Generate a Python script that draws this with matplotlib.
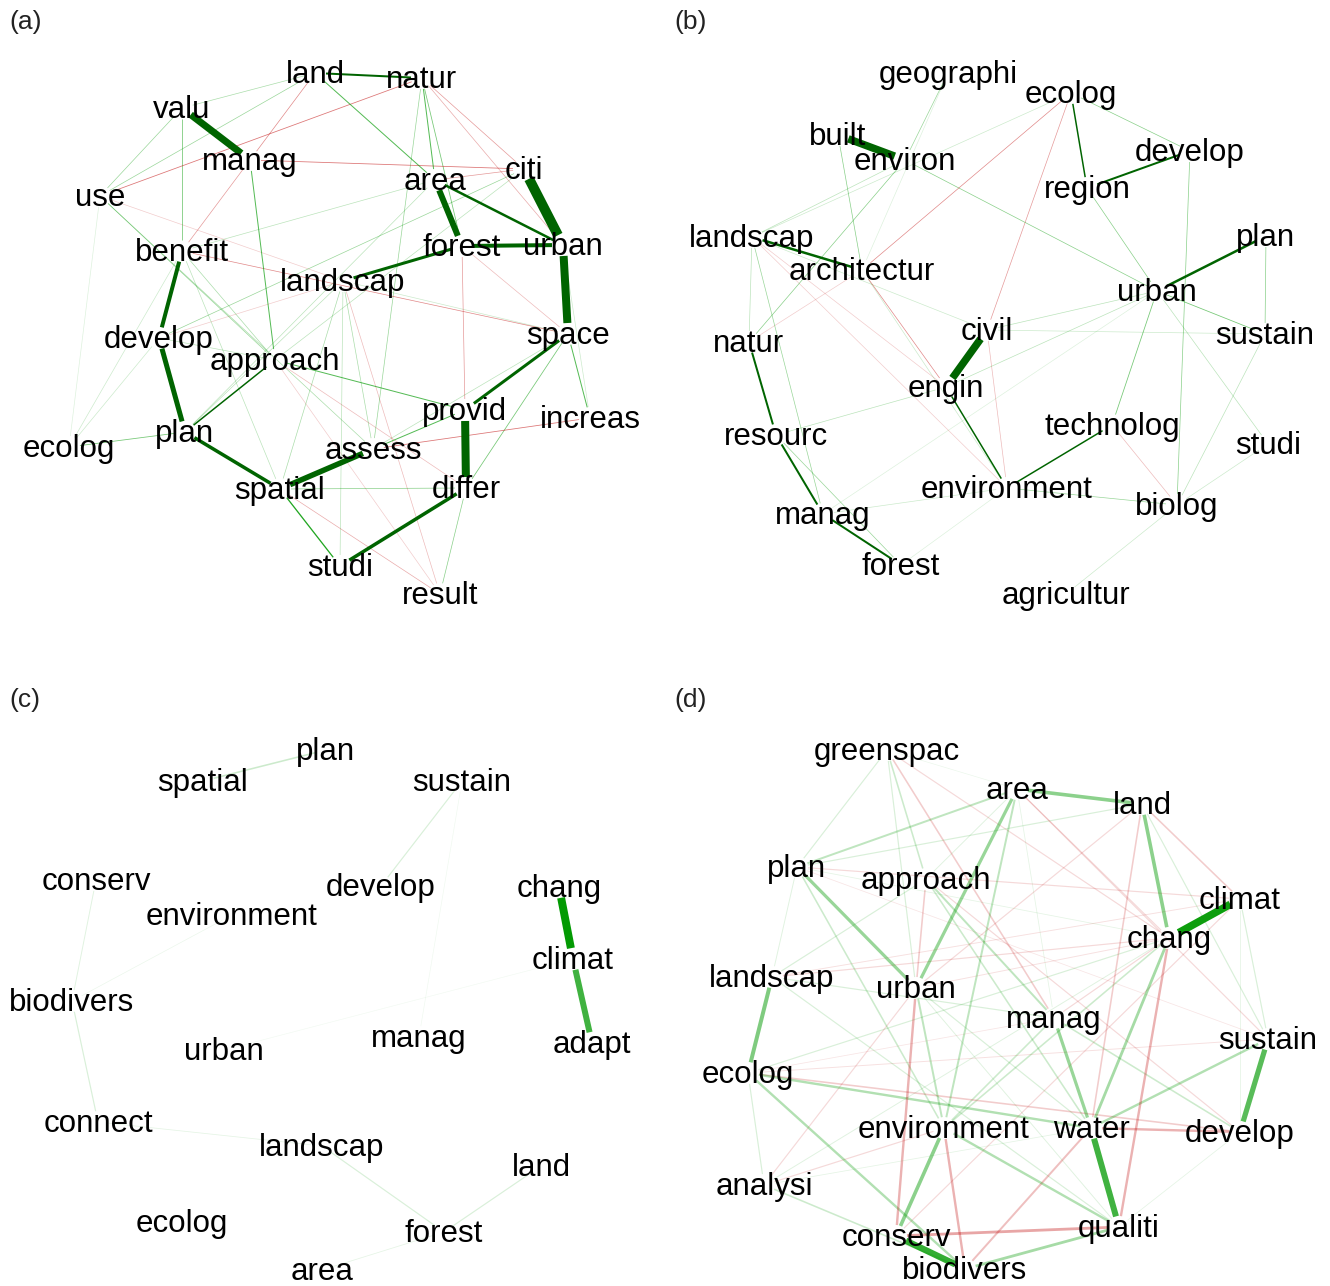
import numpy as np
import matplotlib
matplotlib.use("Agg")
import matplotlib.pyplot as plt
from matplotlib.colors import to_rgb

plt.rcParams['font.family'] = ['Liberation Sans', 'DejaVu Sans']

# node layouts (panel-local pixel coordinates, y down)
nodes_a = {
    'land': (315, 73), 'natur': (422, 78), 'valu': (182, 108), 'manag': (250, 160),
    'citi': (524, 169), 'area': (435, 180), 'use': (100, 196), 'forest': (462, 246),
    'urban': (563, 245), 'benefit': (182, 251), 'landscap': (343, 281), 'space': (568, 334),
    'develop': (159, 338), 'approach': (275, 360), 'provid': (465, 410), 'increas': (590, 418),
    'ecolog': (69, 447), 'plan': (185, 432), 'assess': (373, 449), 'spatial': (280, 489),
    'differ': (466, 488), 'studi': (340, 566), 'result': (440, 594),
}
edges_a = [
    ('citi', 'urban', 1.0), ('urban', 'space', 0.8), ('provid', 'differ', 0.8),
    ('valu', 'manag', 0.7), ('area', 'forest', 0.6), ('assess', 'spatial', 0.55),
    ('develop', 'plan', 0.5), ('benefit', 'develop', 0.4), ('forest', 'urban', 0.4),
    ('plan', 'spatial', 0.35), ('studi', 'differ', 0.35), ('landscap', 'forest', 0.3),
    ('space', 'provid', 0.3), ('area', 'urban', 0.25), ('land', 'natur', 0.2),
    ('approach', 'plan', 0.15), ('spatial', 'studi', 0.13), ('manag', 'approach', 0.1),
    ('valu', 'benefit', 0.08), ('plan', 'ecolog', 0.08), ('land', 'area', 0.1),
    ('natur', 'area', 0.1), ('natur', 'forest', 0.08), ('increas', 'space', 0.1),
    ('space', 'differ', 0.08), ('approach', 'provid', 0.1), ('assess', 'provid', 0.1),
    ('spatial', 'differ', 0.07), ('differ', 'result', 0.07), ('use', 'valu', 0.06),
    ('use', 'land', 0.06), ('use', 'approach', 0.06), ('use', 'assess', 0.05),
    ('valu', 'land', 0.05), ('citi', 'develop', 0.06), ('area', 'benefit', 0.04),
    ('natur', 'assess', 0.06), ('landscap', 'spatial', 0.05), ('landscap', 'studi', 0.04),
    ('landscap', 'assess', 0.05), ('landscap', 'plan', 0.04), ('benefit', 'approach', 0.05),
    ('benefit', 'spatial', 0.04), ('develop', 'approach', 0.04), ('ecolog', 'develop', 0.03),
    ('ecolog', 'benefit', 0.03), ('ecolog', 'use', 0.02), ('space', 'landscap', 0.03),
    ('citi', 'approach', 0.04), ('area', 'plan', 0.04), ('urban', 'increas', 0.03),
    ('space', 'assess', 0.04),
    ('use', 'natur', -0.08), ('land', 'manag', -0.07), ('manag', 'citi', -0.08),
    ('benefit', 'manag', -0.06), ('benefit', 'space', -0.07), ('area', 'citi', -0.06),
    ('natur', 'citi', -0.06), ('natur', 'urban', -0.05), ('forest', 'provid', -0.06),
    ('forest', 'space', -0.04), ('increas', 'assess', -0.08), ('spatial', 'result', -0.05),
    ('landscap', 'result', -0.04), ('approach', 'result', -0.03), ('develop', 'landscap', -0.03),
    ('approach', 'differ', -0.04), ('use', 'landscap', -0.03),
]

nodes_b = {
    'geographi': (283, 73), 'ecolog': (406, 93), 'built': (173, 135), 'environ': (240, 160),
    'develop': (525, 151), 'region': (422, 188), 'landscap': (87, 237), 'plan': (601, 236),
    'architectur': (197, 270), 'urban': (492, 291), 'civil': (322, 330), 'sustain': (600, 334),
    'natur': (84, 342), 'engin': (281, 387), 'technolog': (447, 425), 'resourc': (111, 435),
    'studi': (603, 444), 'environment': (342, 488), 'biolog': (512, 505), 'manag': (158, 514),
    'forest': (236, 565), 'agricultur': (401, 594),
}
edges_b = [
    ('built', 'environ', 0.75), ('civil', 'engin', 0.75), ('landscap', 'architectur', 0.25),
    ('urban', 'plan', 0.25), ('region', 'develop', 0.2), ('natur', 'resourc', 0.2),
    ('resourc', 'manag', 0.2), ('manag', 'forest', 0.2), ('ecolog', 'region', 0.15),
    ('engin', 'environment', 0.15), ('environment', 'technolog', 0.15),
    ('ecolog', 'develop', 0.07), ('develop', 'biolog', 0.07), ('plan', 'sustain', 0.07),
    ('urban', 'sustain', 0.08), ('urban', 'technolog', 0.08), ('region', 'urban', 0.07),
    ('environ', 'urban', 0.07), ('geographi', 'environ', 0.06), ('built', 'architectur', 0.07),
    ('environ', 'natur', 0.07), ('landscap', 'manag', 0.06), ('resourc', 'forest', 0.06),
    ('environment', 'biolog', 0.06), ('resourc', 'engin', 0.04), ('urban', 'civil', 0.04),
    ('urban', 'engin', 0.04), ('sustain', 'biolog', 0.04), ('biolog', 'agricultur', 0.03),
    ('biolog', 'studi', 0.03), ('urban', 'studi', 0.04), ('environ', 'landscap', 0.04),
    ('landscap', 'natur', 0.04), ('landscap', 'civil', 0.03), ('architectur', 'environment', 0.03),
    ('civil', 'sustain', 0.03), ('geographi', 'architectur', 0.02), ('ecolog', 'landscap', 0.03),
    ('manag', 'environment', 0.03), ('forest', 'environment', 0.02), ('urban', 'manag', 0.02),
    ('ecolog', 'architectur', -0.07), ('ecolog', 'civil', -0.06), ('architectur', 'engin', -0.07),
    ('civil', 'environment', -0.04), ('technolog', 'biolog', -0.04), ('landscap', 'engin', -0.03),
    ('landscap', 'environment', -0.03), ('natur', 'architectur', -0.03),
]

nodes_c = {
    'plan': (326, 107), 'spatial': (203, 138), 'sustain': (462, 138), 'conserv': (96, 237),
    'develop': (381, 243), 'chang': (559, 244), 'environment': (232, 272), 'climat': (573, 316),
    'biodivers': (72, 358), 'manag': (419, 394), 'adapt': (592, 400), 'urban': (224, 407),
    'connect': (98, 479), 'landscap': (322, 503), 'land': (541, 523), 'ecolog': (182, 579),
    'forest': (444, 589), 'area': (322, 627),
}
edges_c = [
    ('chang', 'climat', 0.99), ('climat', 'adapt', 0.75), ('spatial', 'plan', 0.2),
    ('sustain', 'develop', 0.15), ('sustain', 'manag', 0.06), ('conserv', 'biodivers', 0.12),
    ('biodivers', 'connect', 0.15), ('biodivers', 'environment', 0.08),
    ('connect', 'landscap', 0.1), ('landscap', 'forest', 0.15), ('forest', 'land', 0.15),
    ('forest', 'area', 0.1), ('urban', 'climat', 0.05),
]

nodes_d = {
    'greenspac': (222, 107), 'area': (352, 146), 'land': (477, 161), 'plan': (132, 224),
    'approach': (261, 236), 'climat': (575, 256), 'chang': (504, 295), 'landscap': (107, 334),
    'urban': (251, 345), 'manag': (389, 375), 'sustain': (603, 396), 'ecolog': (83, 430),
    'environment': (279, 485), 'water': (426, 485), 'develop': (575, 489), 'analysi': (99, 542),
    'qualiti': (454, 584), 'conserv': (231, 593), 'biodivers': (300, 626),
}
edges_d = [
    ('chang', 'climat', 0.95), ('conserv', 'biodivers', 0.8), ('water', 'qualiti', 0.75),
    ('sustain', 'develop', 0.65), ('land', 'chang', 0.45), ('area', 'land', 0.45),
    ('landscap', 'ecolog', 0.5), ('environment', 'conserv', 0.45), ('area', 'urban', 0.4),
    ('plan', 'urban', 0.4), ('manag', 'water', 0.4), ('chang', 'water', 0.35),
    ('biodivers', 'qualiti', 0.35), ('ecolog', 'water', 0.3), ('ecolog', 'biodivers', 0.3),
    ('environment', 'qualiti', 0.3), ('water', 'sustain', 0.3), ('area', 'environment', 0.25),
    ('greenspac', 'approach', 0.2), ('greenspac', 'plan', 0.15), ('greenspac', 'urban', 0.15),
    ('approach', 'manag', 0.25), ('approach', 'water', 0.2), ('plan', 'area', 0.25),
    ('plan', 'environment', 0.2), ('urban', 'environment', 0.25), ('urban', 'water', 0.15),
    ('manag', 'develop', 0.2), ('manag', 'environment', 0.2), ('landscap', 'approach', 0.15),
    ('landscap', 'manag', 0.15), ('landscap', 'qualiti', 0.15), ('ecolog', 'chang', 0.15),
    ('analysi', 'ecolog', 0.15), ('analysi', 'biodivers', 0.2), ('analysi', 'chang', 0.12),
    ('land', 'sustain', 0.15), ('climat', 'sustain', 0.15), ('chang', 'environment', 0.2),
    ('area', 'approach', 0.12), ('urban', 'qualiti', 0.12), ('plan', 'landscap', 0.12),
    ('plan', 'chang', 0.1), ('land', 'plan', 0.15), ('climat', 'develop', 0.1),
    ('develop', 'qualiti', 0.1), ('greenspac', 'area', 0.08), ('analysi', 'water', 0.1),
    ('area', 'manag', 0.1),
    ('conserv', 'qualiti', -0.35), ('environment', 'biodivers', -0.3), ('urban', 'conserv', -0.3),
    ('chang', 'qualiti', -0.3), ('water', 'develop', -0.3), ('biodivers', 'water', -0.25),
    ('greenspac', 'manag', -0.2), ('greenspac', 'chang', -0.15), ('land', 'climat', -0.2),
    ('land', 'water', -0.2), ('land', 'urban', -0.15), ('area', 'chang', -0.15),
    ('area', 'sustain', -0.15), ('plan', 'climat', -0.15), ('approach', 'develop', -0.15),
    ('approach', 'urban', -0.2), ('ecolog', 'develop', -0.2), ('ecolog', 'sustain', -0.12),
    ('landscap', 'chang', -0.15), ('analysi', 'environment', -0.15), ('analysi', 'urban', -0.15),
    ('manag', 'chang', -0.15), ('climat', 'conserv', -0.15), ('urban', 'chang', -0.12),
    ('ecolog', 'manag', -0.1), ('landscap', 'climat', -0.12), ('plan', 'sustain', -0.1),
]

panels = [
    ('(a)', nodes_a, edges_a, 0.15, 10, 22),
    ('(b)', nodes_b, edges_b, 0.15, 10, 22),
    ('(c)', nodes_c, edges_c, 1.0, 8, 57),
    ('(d)', nodes_d, edges_d, 1.0, 8, 57),
]
rects = [[0, 0.5, 0.5, 0.5], [0.5, 0.5, 0.5, 0.5], [0, 0, 0.5, 0.5], [0.5, 0, 0.5, 0.5]]

fig = plt.figure(figsize=(13.3, 12.86), dpi=100)
for (tag, nodes, edges, cut, wpx, tag_y), rect in zip(panels, rects):
    ax = fig.add_axes(rect)
    ax.set_xlim(0, 665)
    ax.set_ylim(643, 0)
    ax.axis('off')
    # weakest first, strongest on top
    for a, b, w in sorted(edges, key=lambda e: abs(e[2])):
        p0 = np.array(nodes[a], float)
        p1 = np.array(nodes[b], float)
        d = p1 - p0
        L = np.hypot(*d)
        u = d / L
        s = min(11, L * 0.3)
        q0, q1 = p0 + u * s, p1 - u * s
        aw = abs(w)
        if aw >= cut:
            col, alpha = (to_rgb('#006400') if w > 0 else to_rgb('red')), 1.0
        else:
            col = to_rgb('#009900') if w > 0 else to_rgb('#BF0000')
            alpha = aw / cut
        lw = max(0.7, wpx * aw) * 0.72
        ax.plot([q0[0], q1[0]], [q0[1], q1[1]], color=col, alpha=alpha, lw=lw,
                solid_capstyle='butt', zorder=1)
    for name, (x, y) in nodes.items():
        ax.text(x, y + 2, name, ha='center', va='center', fontsize=22.5,
                color='black', zorder=3)
    ax.text(9, tag_y, tag, ha='left', va='center', fontsize=19, color='#222222')

fig.savefig('out.png', dpi=100, facecolor='white')
